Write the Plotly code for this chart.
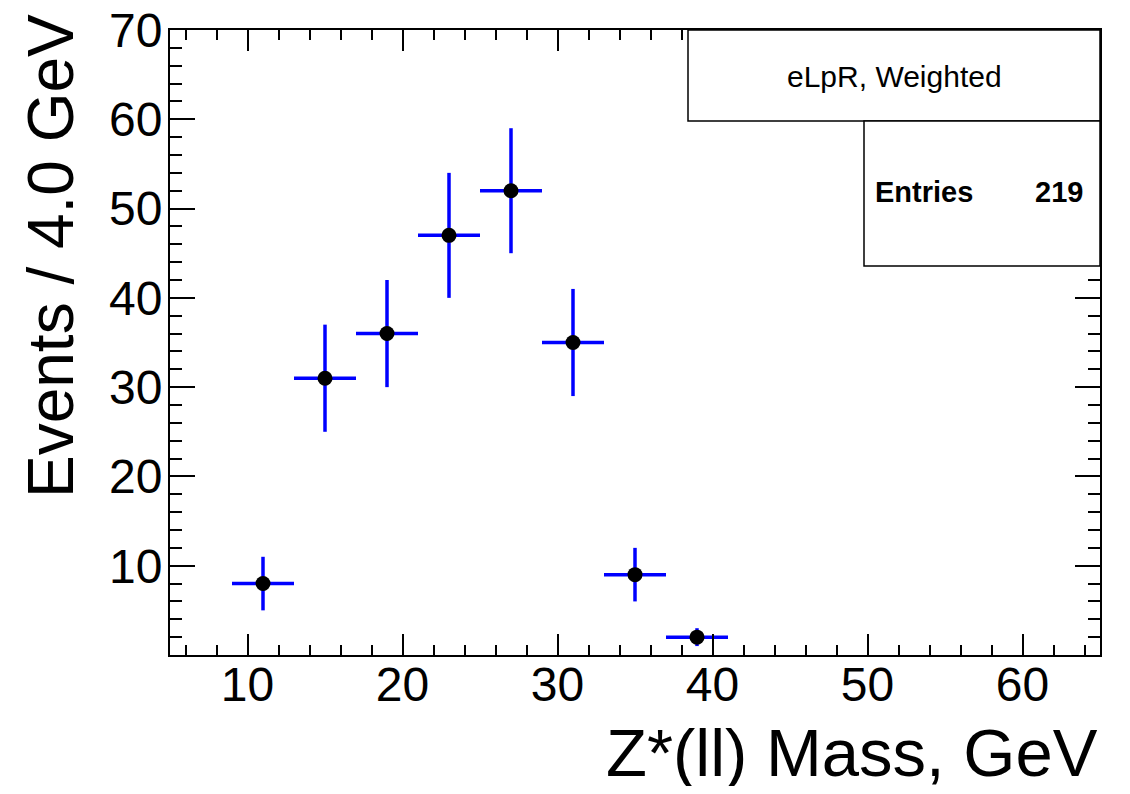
import plotly.graph_objects as go

# ---- data ----
bin_centers = [11, 15, 19, 23, 27, 31, 35, 39]
bin_width = 4.0
counts = [8, 31, 36, 47, 52, 35, 9, 2]
errors = [3, 6, 6, 7, 7, 6, 3, 1]
x_range = [5, 65]
y_range = [0, 70]
x_ticks = [10, 20, 30, 40, 50, 60]
y_ticks = [10, 20, 30, 40, 50, 60, 70]
title_text = "eLpR, Weighted"
stats_label = "Entries"
stats_value = "219"
x_title = "Z*(ll) Mass, GeV"
y_title = "Events / 4.0 GeV"

FONT = "Liberation Sans, Arial, Helvetica, sans-serif"
OFF = 8  # page body margin
W, H = 1130 - 2 * OFF, 794 - 2 * OFF
L, T = 170 - OFF, 30 - OFF
R = W - (1100 - OFF)
B = H - (655 - OFF)
PW, PH = W - L - R, H - T - B


def px_x(p):
    return (p - OFF - L) / PW


def px_y(p):
    return (H - B - (p - OFF)) / PH


fig = go.Figure()
fig.add_trace(go.Scatter(
    x=bin_centers, y=counts, mode="markers",
    marker=dict(color="black", size=15, symbol="circle"),
    error_x=dict(type="constant", value=bin_width / 2, color="#0000ff", thickness=3.5, width=0),
    error_y=dict(type="data", array=errors, color="#0000ff", thickness=3.5, width=0),
    showlegend=False,
))

axis_common = dict(
    showline=True, linecolor="black", linewidth=2, mirror="ticks",
    ticks="inside", tickcolor="black", tickwidth=1.5,
    showgrid=False, zeroline=False, automargin=False,
    ticklabeloverflow="allow",
    tickfont=dict(family=FONT, size=48, color="black"),
)

fig.update_xaxes(
    range=x_range, tickvals=x_ticks, ticklen=21,
    minor=dict(ticks="inside", dtick=2, tick0=0, ticklen=10, tickwidth=1.5, tickcolor="black", showgrid=False),
    ticklabelstandoff=-14,
    **axis_common,
)
fig.update_yaxes(
    range=y_range, tickvals=y_ticks, ticklen=25,
    minor=dict(ticks="inside", dtick=2, tick0=0, ticklen=12, tickwidth=1.5, tickcolor="black", showgrid=False),
    ticklabelstandoff=-4,
    **axis_common,
)

shapes = [
    dict(type="rect", xref="paper", yref="paper", layer="above",
         x0=px_x(688), x1=1.0, y0=px_y(121), y1=1.0,
         fillcolor="white", line=dict(color="black", width=1.5)),
    dict(type="rect", xref="paper", yref="paper", layer="above",
         x0=px_x(864), x1=1.0, y0=px_y(266), y1=px_y(121),
         fillcolor="white", line=dict(color="black", width=1.5)),
]

annotations = [
    dict(text=title_text, xref="paper", yref="paper", x=px_x(894), y=px_y(76),
         xanchor="center", yanchor="middle", showarrow=False,
         font=dict(family=FONT, size=30, color="black")),
    dict(text="<b>" + stats_label + "</b>", xref="paper", yref="paper", x=px_x(873), y=px_y(192),
         xanchor="left", yanchor="middle", showarrow=False,
         font=dict(family=FONT, size=29, color="black")),
    dict(text="<b>" + stats_value + "</b>", xref="paper", yref="paper", x=px_x(1085), y=px_y(192),
         xanchor="right", yanchor="middle", showarrow=False,
         font=dict(family=FONT, size=29, color="black")),
    dict(text=x_title, xref="paper", yref="paper", x=1.0, y=px_y(752),
         xanchor="right", yanchor="middle", showarrow=False,
         font=dict(family=FONT, size=67, color="black")),
    dict(text=y_title, xref="paper", yref="paper", x=px_x(51), y=px_y(12),
         xanchor="center", yanchor="top", textangle=-90, showarrow=False,
         font=dict(family=FONT, size=64, color="black")),
]

fig.update_layout(
    width=W, height=H,
    margin=dict(l=L, r=R, t=T, b=B, pad=0, autoexpand=False),
    paper_bgcolor="white", plot_bgcolor="white",
    shapes=shapes, annotations=annotations,
)

fig.write_html("out.html")
